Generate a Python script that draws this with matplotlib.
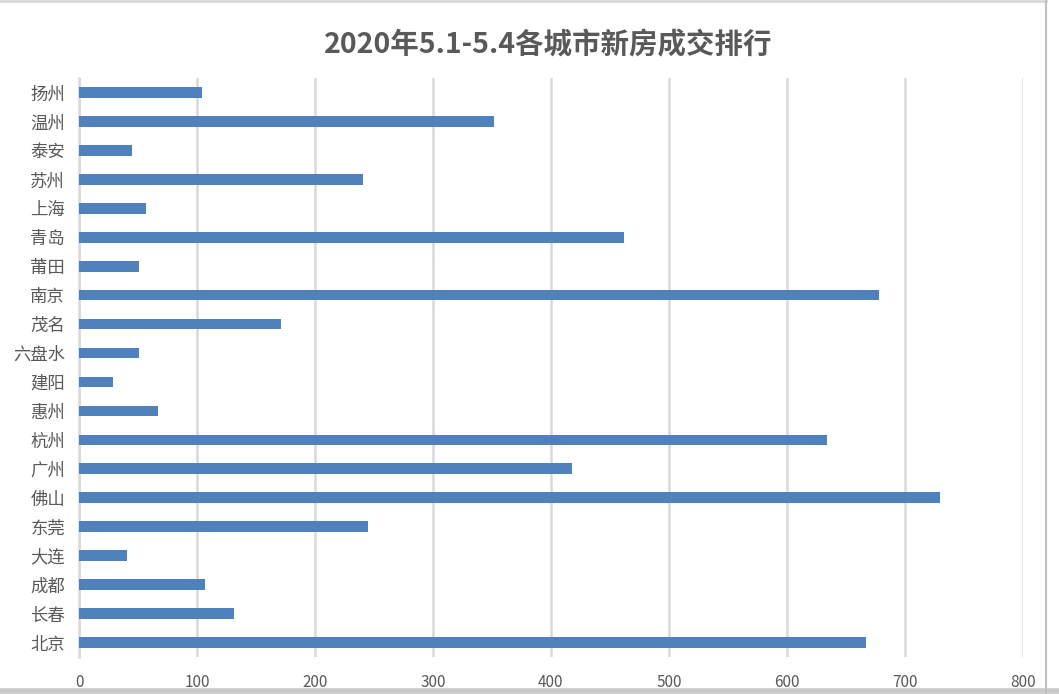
import matplotlib
matplotlib.use("Agg")
import matplotlib.pyplot as plt
from matplotlib.lines import Line2D

plt.rcParams['font.family'] = ['Noto Sans CJK SC', 'DejaVu Sans']

cities = ["北京", "长春", "成都", "大连", "东莞", "佛山", "广州", "杭州", "惠州", "建阳",
          "六盘水", "茂名", "南京", "莆田", "青岛", "上海", "苏州", "泰安", "温州", "扬州"]
values = [667, 131, 107, 41, 245, 730, 418, 634, 67, 29,
          51, 171, 678, 51, 462, 57, 241, 45, 352, 104]
x_ticks = [0, 100, 200, 300, 400, 500, 600, 700, 800]
title = "2020年5.1-5.4各城市新房成交排行"

fig = plt.figure(figsize=(10.59, 6.94), dpi=100)
ax = fig.add_axes([0.0746, 0.0533, 0.8914, 0.8343])

pos = list(range(len(cities)))
ax.barh(pos, values, height=0.37, color="#4f81bd", zorder=3)
ax.set_ylim(-0.5, len(cities) - 0.5)
ax.set_xlim(0, 800)
ax.set_yticks(pos)
ax.set_yticklabels(cities, fontsize=12.5, color="#595959")
ax.set_xticks(x_ticks)
ax.set_xticklabels([str(t) for t in x_ticks], fontsize=11, color="#595959")
ax.tick_params(axis='both', length=0)
ax.tick_params(axis='x', pad=12)
ax.tick_params(axis='y', pad=10)
ax.grid(axis='x', color="#d9d9d9", linewidth=1.8, zorder=0)
for s in ["top", "right", "bottom"]:
    ax.spines[s].set_visible(False)
ax.spines["left"].set_color("#d9d9d9")
ax.spines["left"].set_linewidth(1.8)

fig.text(0.5175, 0.935, title, ha="center", va="center", fontsize=20.5,
         fontweight="bold", color="#595959")

# frame artifacts
fig.add_artist(Line2D([0, 0.988], [0.998, 0.998], color="#d9d9d9", lw=2, transform=fig.transFigure))
fig.add_artist(Line2D([0, 1], [0.004, 0.004], color="#c8c8c8", lw=4, transform=fig.transFigure))
fig.add_artist(Line2D([0.988, 0.988], [0, 1], color="#c0c0c0", lw=1.5, transform=fig.transFigure))

fig.savefig("out.png", dpi=100)
